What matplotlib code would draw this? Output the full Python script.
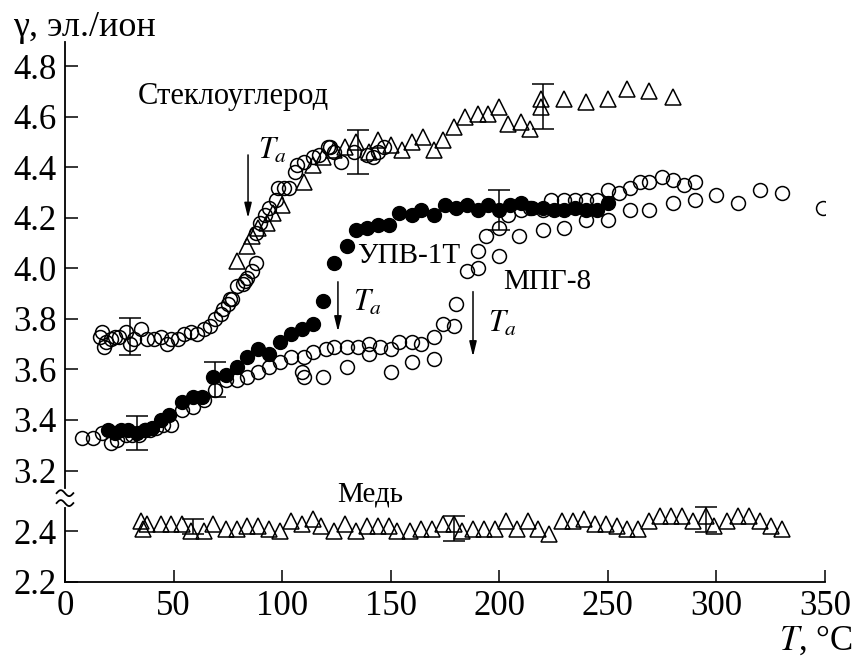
import numpy as np
import matplotlib
matplotlib.use("Agg")
import matplotlib.pyplot as plt

plt.rcParams.update({
    "font.family": "Liberation Serif",
    "mathtext.fontset": "stix",
})

# glassy carbon (Стеклоуглерод): open circles and open triangles
gc_circ_T = [16, 17, 18, 19, 21, 23, 25, 28, 30, 32, 35, 38, 41, 44, 47, 49, 52, 55,
             58, 61, 64, 67, 69, 72, 73, 75, 76, 77, 79, 82, 83, 84, 86, 88, 88, 90,
             92, 94, 97, 98, 101, 103, 106, 107, 110, 114, 117, 121, 122, 124, 127,
             133, 139, 142, 144, 147]
gc_circ_g = [3.73, 3.75, 3.69, 3.71, 3.72, 3.73, 3.73, 3.75, 3.70, 3.72, 3.76, 3.72,
             3.72, 3.73, 3.70, 3.72, 3.72, 3.74, 3.75, 3.74, 3.76, 3.77, 3.80, 3.82,
             3.84, 3.86, 3.88, 3.88, 3.93, 3.94, 3.95, 3.96, 3.99, 4.02, 4.14, 4.18,
             4.21, 4.24, 4.27, 4.32, 4.32, 4.32, 4.38, 4.41, 4.42, 4.44, 4.45, 4.48,
             4.48, 4.46, 4.42, 4.46, 4.45, 4.44, 4.46, 4.48]
gc_tri_T = [79, 84, 86, 89, 93, 96, 100, 110, 114, 119, 124, 129, 134, 140, 144, 150,
            155, 160, 165, 170, 174, 179, 184, 190, 195, 200, 204, 210, 214, 219, 219,
            230, 240, 250, 259, 269, 280]
gc_tri_g = [4.03, 4.09, 4.13, 4.16, 4.18, 4.22, 4.25, 4.34, 4.41, 4.44, 4.47, 4.48,
            4.50, 4.46, 4.51, 4.49, 4.47, 4.50, 4.52, 4.47, 4.51, 4.56, 4.60, 4.61,
            4.61, 4.64, 4.57, 4.58, 4.55, 4.64, 4.67, 4.67, 4.66, 4.67, 4.71, 4.70,
            4.68]
gc_err_T = [30, 135, 220]
gc_err_g = [3.73, 4.46, 4.64]
gc_err_e = [0.072, 0.086, 0.09]

# УПВ-1Т: filled circles
upv_T = [20, 23, 26, 29, 33, 37, 40, 44, 48, 54, 59, 63, 68, 74, 79, 84, 89, 94, 99,
         104, 109, 114, 119, 124, 130, 134, 139, 144, 149, 154, 160, 164, 170, 175,
         180, 185, 190, 195, 200, 205, 210, 215, 220, 225, 230, 235, 240, 245, 250]
upv_g = [3.36, 3.35, 3.36, 3.36, 3.35, 3.36, 3.37, 3.40, 3.42, 3.47, 3.49, 3.49, 3.57,
         3.58, 3.61, 3.65, 3.68, 3.66, 3.71, 3.74, 3.76, 3.78, 3.87, 4.02, 4.09, 4.15,
         4.16, 4.17, 4.17, 4.22, 4.21, 4.23, 4.21, 4.25, 4.24, 4.25, 4.23, 4.25, 4.23,
         4.25, 4.26, 4.24, 4.24, 4.23, 4.23, 4.24, 4.23, 4.23, 4.26]
upv_err_T = [33, 69, 200]
upv_err_g = [3.35, 3.56, 4.23]
upv_err_e = [0.067, 0.07, 0.08]

# МПГ-8: open circles, two runs
mpg_a_T = [8, 13, 17, 21, 24, 28, 31, 34, 37, 39, 42, 45, 49, 54, 59, 64, 69, 74, 79,
           84, 89, 94, 99, 104, 110, 114, 120, 124, 130, 135, 140, 145, 150, 154, 160,
           164, 170, 174, 179, 180, 185, 190, 190, 194, 200, 204, 210, 214, 220, 224,
           230, 235, 240, 245, 250, 255, 260, 265, 269, 275, 280, 285, 290]
mpg_a_g = [3.33, 3.33, 3.35, 3.31, 3.32, 3.34, 3.34, 3.34, 3.36, 3.36, 3.37, 3.38,
           3.38, 3.44, 3.45, 3.48, 3.52, 3.56, 3.56, 3.57, 3.59, 3.61, 3.63, 3.65,
           3.65, 3.67, 3.68, 3.69, 3.69, 3.69, 3.70, 3.69, 3.68, 3.71, 3.71, 3.70,
           3.73, 3.78, 3.77, 3.86, 3.99, 4.00, 4.07, 4.13, 4.16, 4.21, 4.23, 4.24,
           4.23, 4.27, 4.27, 4.27, 4.27, 4.27, 4.31, 4.30, 4.32, 4.34, 4.34, 4.36,
           4.35, 4.33, 4.34]
mpg_b_T = [109, 110, 119, 130, 140, 150, 160, 170, 200, 209, 220, 230, 240, 250, 260,
           269, 280, 290, 300, 310, 320, 330, 349]
mpg_b_g = [3.59, 3.57, 3.57, 3.61, 3.66, 3.59, 3.63, 3.64, 4.05, 4.13, 4.15, 4.16,
           4.19, 4.19, 4.23, 4.23, 4.26, 4.27, 4.29, 4.26, 4.31, 4.30, 4.24]

# Медь: open triangles (below the axis break)
cu_T = [35, 36, 38, 44, 49, 54, 58, 64, 68, 74, 79, 84, 89, 94, 99, 104, 109, 114,
        118, 124, 129, 134, 139, 144, 149, 153, 159, 164, 169, 174, 179, 183, 188,
        193, 198, 203, 208, 213, 218, 223, 229, 234, 239, 244, 249, 254, 259, 264,
        269, 274, 279, 284, 289, 295, 299, 305, 310, 315, 320, 325, 330]
cu_g = [2.44, 2.41, 2.43, 2.43, 2.43, 2.43, 2.40, 2.40, 2.43, 2.41, 2.41, 2.42, 2.42,
        2.41, 2.40, 2.44, 2.43, 2.45, 2.42, 2.40, 2.43, 2.40, 2.42, 2.42, 2.42, 2.40,
        2.40, 2.41, 2.41, 2.43, 2.43, 2.40, 2.41, 2.41, 2.41, 2.44, 2.41, 2.44, 2.41,
        2.39, 2.44, 2.44, 2.45, 2.43, 2.43, 2.42, 2.41, 2.41, 2.44, 2.46, 2.46, 2.46,
        2.44, 2.46, 2.42, 2.44, 2.46, 2.46, 2.44, 2.42, 2.41]
cu_err_T = [59, 179, 295]
cu_err_g = [2.42, 2.41, 2.446]
cu_err_e = [0.03, 0.05, 0.05]

x_ticks = [0, 50, 100, 150, 200, 250, 300, 350]
y_ticks_upper = [3.2, 3.4, 3.6, 3.8, 4.0, 4.2, 4.4, 4.6, 4.8]
y_ticks_lower = [2.2, 2.4]

GAP = 0.56  # copper values are shifted up by this amount to close the axis break


def shift(vals):
    return np.asarray(vals) + GAP


fig = plt.figure(figsize=(8.56, 6.57), dpi=100)
ax = fig.add_axes([0.0759, 0.1146, 0.8879, 0.8219])

open_kw = dict(ls="none", mfc="none", mec="black", mew=1.1)
err_kw = dict(fmt="none", ecolor="black", elinewidth=1.1, capsize=8, capthick=1.1)

ax.errorbar(gc_err_T, gc_err_g, yerr=gc_err_e, **err_kw)
ax.errorbar(upv_err_T, upv_err_g, yerr=upv_err_e, **err_kw)
ax.errorbar(cu_err_T, shift(cu_err_g), yerr=cu_err_e, **err_kw)

ax.plot(gc_circ_T, gc_circ_g, "o", ms=10, **open_kw)
ax.plot(gc_tri_T, gc_tri_g, "^", ms=11, **open_kw)
ax.plot(mpg_a_T, mpg_a_g, "o", ms=10, **open_kw)
ax.plot(mpg_b_T, mpg_b_g, "o", ms=10, **open_kw)
ax.plot(upv_T, upv_g, "o", ms=10, ls="none", color="black")
ax.plot(cu_T, shift(cu_g), "^", ms=11, **open_kw)

ax.set_xlim(0, 350)
ax.set_ylim(2.2 + GAP, 4.897)
ax.set_xticks(x_ticks)
ax.set_xticklabels([str(t) for t in x_ticks])
ax.set_yticks(list(shift(y_ticks_lower)) + y_ticks_upper)
ax.set_yticklabels([f"{v:.1f}" for v in y_ticks_lower + y_ticks_upper])
ax.tick_params(direction="in", length=9, width=1.1, labelsize=25, pad=6)

for side in ("top", "right", "left"):
    ax.spines[side].set_visible(False)
ax.spines["bottom"].set_linewidth(1.3)

# left axis drawn in two pieces with a wavy break mark between them
lk = dict(transform=ax.transAxes, clip_on=False, color="black", lw=1.3)
ax.plot([0, 0], [0, 0.1365], **lk)
ax.plot([0, 0], [0.1735, 1.0], **lk)
t = np.linspace(-1, 1, 40)
for y0 in (0.1456, 0.164):
    ax.plot(0.011 * t, y0 - 0.0055 * np.sin(np.pi * t), **lk)

# labels of the curves
ax.text(33.6, 4.679, "Стеклоуглерод", fontsize=22, va="center")
ax.text(134.5, 4.05, "УПВ-1Т", fontsize=21, va="center")
ax.text(201.7, 3.947, "МПГ-8", fontsize=21, va="center")
ax.text(125.3, 3.106, "Медь", fontsize=21, va="center")

# annealing temperature markers
arrows = [(84.3, 4.449, 4.199, 88.9, 4.465),
          (125.7, 3.947, 3.750, 132.6, 3.862),
          (187.9, 3.908, 3.651, 194.8, 3.781)]
for xa, ytop, ytip, xt, yt in arrows:
    ax.annotate("", xy=(xa, ytip), xytext=(xa, ytop),
                arrowprops=dict(arrowstyle="-|>,head_length=0.9,head_width=0.22",
                                color="black", lw=1.1, shrinkA=0, shrinkB=0))
    ax.text(xt, yt, r"$T_a$", fontsize=22, va="center", ha="left")

fig.text(13 / 856, 1 - 28 / 657, "γ, эл./ион", fontsize=26, va="center", ha="left")
fig.text(0.996, 1 - 641 / 657, r"$T$, °C", fontsize=25, va="center", ha="right")

fig.savefig("out.png", dpi=100, facecolor="white")
